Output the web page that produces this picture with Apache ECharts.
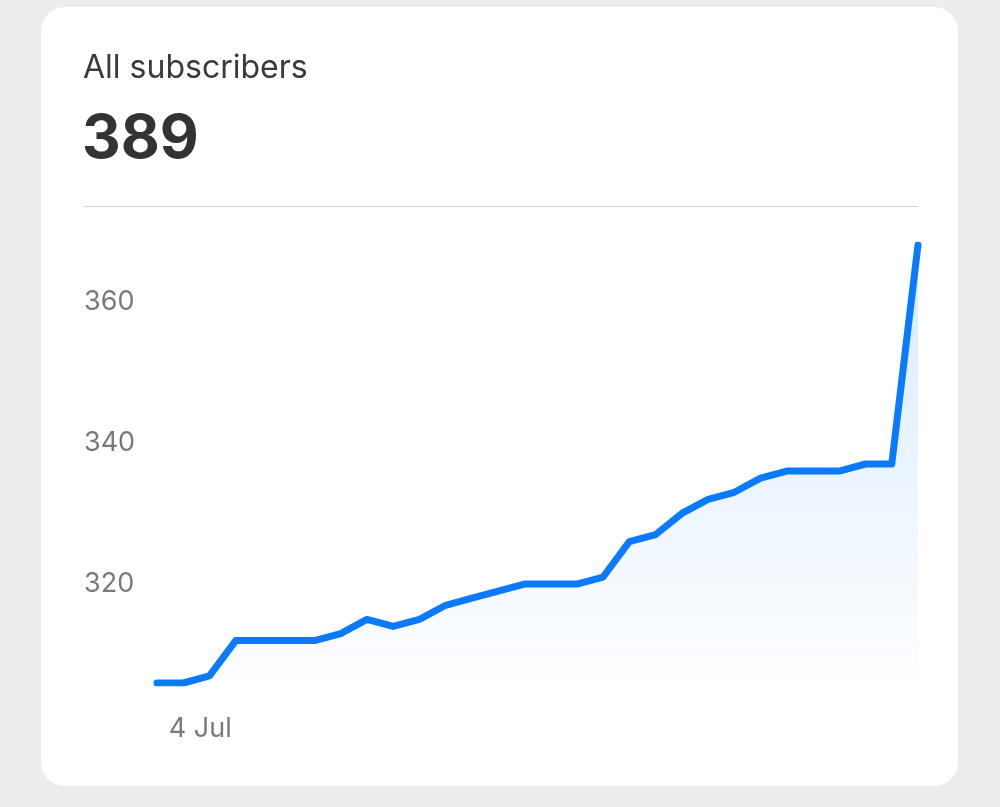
<!DOCTYPE html>
<html>
<head>
<meta charset="utf-8">
<script src="https://cdn.jsdelivr.net/npm/echarts@6/dist/echarts.min.js"></script>
<style>
  html, body { margin: 0; padding: 0; background: #ececec; }
  #card { position: absolute; left: 41px; top: 7px; width: 917px; height: 779px; background: #ffffff; border-radius: 24px; }
  #chart { position: absolute; left: 0; top: 0; width: 1000px; height: 807px; }
</style>
</head>
<body>
<div id="card"></div>
<div id="chart"></div>
<script>
// ---- data ----
const titleText = 'All subscribers';
const totalText = '389';
const dates = ['3 Jul','4 Jul','5 Jul','6 Jul','7 Jul','8 Jul','9 Jul','10 Jul','11 Jul','12 Jul',
               '13 Jul','14 Jul','15 Jul','16 Jul','17 Jul','18 Jul','19 Jul','20 Jul','21 Jul','22 Jul',
               '23 Jul','24 Jul','25 Jul','26 Jul','27 Jul','28 Jul','29 Jul','30 Jul','31 Jul','1 Aug'];
const subscribers = [306,306,307,312,312,312,312,313,315,314,
                     315,317,318,319,320,320,320,321,326,327,
                     330,332,333,335,336,336,336,337,337,368];
const yTickValues = [320, 340, 360];
const xLabelDates = ['4 Jul'];

const chart = echarts.init(document.getElementById('chart'), null, { renderer: 'canvas' });
const font = "Inter, 'Liberation Sans', Arial, sans-serif";

chart.setOption({
  backgroundColor: 'transparent',
  animation: false,
  grid: { left: 157, right: 82, top: 245, bottom: 124 },
  xAxis: {
    type: 'category',
    data: dates,
    boundaryGap: false,
    axisLine: { show: false },
    axisTick: { show: false },
    splitLine: { show: false },
    axisLabel: {
      interval: (i, v) => xLabelDates.includes(v),
      color: '#7a7a7a',
      fontFamily: font,
      fontSize: 27,
      margin: 32,
      padding: [0, 0, 0, 34]
    }
  },
  yAxis: {
    type: 'value',
    min: 'dataMin',
    max: 'dataMax',
    axisLine: { show: false },
    axisTick: { show: false },
    splitLine: { show: false },
    axisLabel: {
      customValues: yTickValues,
      align: 'left',
      margin: 73,
      color: '#7a7a7a',
      fontFamily: font,
      fontSize: 27
    }
  },
  series: [{
    type: 'line',
    data: subscribers,
    showSymbol: false,
    symbol: 'none',
    lineStyle: { color: '#0a7aff', width: 7, cap: 'round', join: 'round' },
    areaStyle: {
      origin: 'start',
      color: new echarts.graphic.LinearGradient(0, 0, 0, 1, [
        { offset: 0, color: 'rgba(0,122,255,0.22)' },
        { offset: 1, color: 'rgba(0,122,255,0.01)' }
      ])
    }
  }],
  graphic: [
    { type: 'text', left: 83, top: 52, style: { text: titleText, font: "32px " + font, fill: '#3a3a3a' } },
    { type: 'text', left: 82, top: 110, style: { text: totalText, font: "bold 60px " + font, fill: '#333333' } },
    { type: 'line', shape: { x1: 83, y1: 206.5, x2: 918, y2: 206.5 }, style: { stroke: '#d4d4d4', lineWidth: 1 } }
  ]
});
</script>
</body>
</html>
